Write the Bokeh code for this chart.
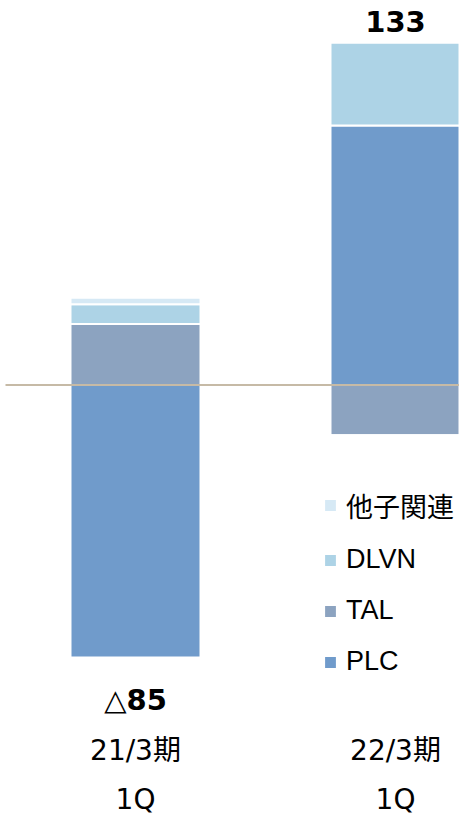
from bokeh.plotting import figure
from bokeh.models import Range1d, ColumnDataSource, Span, Legend, LegendItem
from bokeh.core.properties import value
from bokeh.embed import file_html
from bokeh.resources import INLINE

# ---- data ----
categories = ["21/3期", "22/3期"]
quarters = ["1Q", "1Q"]
series_names = ["PLC", "TAL", "DLVN", "他子関連"]
plc = [-125, 119]
tal = [28, -23]
dlvn = [9, 38]
other = [3, -1]
series_values = [plc, tal, dlvn, other]
colors = ["#709BCB", "#8CA3C0", "#ADD3E6", "#D6E9F5"]

# ---- layout ----
W, H = 459, 815
PX = 2.18          # pixels per unit
ZERO = 384.5       # pixel row of zero from top
X0 = 135           # pixel column of first bar center
DX = 260           # pixel distance between bars
BAR_PX = 130

def py_to_y(py):
    return (ZERO - py) / PX

def px_to_x(px):
    return (px - X0) / DX

x_idx = list(range(len(categories)))
p = figure(width=W, height=H,
           x_range=Range1d(px_to_x(0), px_to_x(W)),
           y_range=Range1d(py_to_y(H), py_to_y(0)),
           output_backend="svg", toolbar_location=None, min_border=0)
p.axis.visible = False
p.grid.visible = False
p.outline_line_color = None
p.background_fill_color = "white"
p.border_fill_color = "white"

pos = [0.0] * len(categories)
neg = [0.0] * len(categories)
renderers = []
for name, vals, col in zip(series_names, series_values, colors):
    bottoms, tops = [], []
    for i, v in enumerate(vals):
        if v >= 0:
            bottoms.append(pos[i]); tops.append(pos[i] + v); pos[i] += v
        else:
            bottoms.append(neg[i]); tops.append(neg[i] + v); neg[i] += v
    src = ColumnDataSource(dict(x=x_idx, top=tops, bottom=bottoms))
    r = p.vbar(x="x", top="top", bottom="bottom", width=BAR_PX / DX, source=src,
               fill_color=col, line_color="white", line_width=2)
    renderers.append((name, r))

# zero line
p.segment(x0=[px_to_x(5)], y0=[0], x1=[px_to_x(W)], y1=[0],
          line_color="#C6BAA6", line_width=2)

# totals
totals = [sum(v[i] for v in series_values) for i in x_idx]
lab_txt, lab_y = [], []
for i, t in enumerate(totals):
    if t >= 0:
        lab_txt.append(f"{t:g}")
        lab_y.append(pos[i] + 21 / PX)
    else:
        lab_txt.append(f"△{-t:g}")
        lab_y.append(neg[i] - 42 / PX)
p.text(x=x_idx, y=lab_y, text=lab_txt, text_align="center", text_baseline="middle",
       text_font=value("DejaVu Sans, Noto Sans CJK JP"), text_font_style="bold",
       text_font_size="29px", text_color="black")

# category labels
p.text(x=x_idx, y=[py_to_y(750)] * 2, text=categories, text_align="center",
       text_baseline="middle", text_font=value("DejaVu Sans, Noto Sans CJK JP"),
       text_font_size="28px", text_color="black")
p.text(x=x_idx, y=[py_to_y(799)] * 2, text=quarters, text_align="center",
       text_baseline="middle", text_font=value("DejaVu Sans, Noto Sans CJK JP"),
       text_font_size="28px", text_color="black")

items = [LegendItem(label=n, renderers=[r]) for n, r in reversed(renderers)]
legend = Legend(items=items, location=(322, H - 677.5), orientation="vertical",
                glyph_width=16, glyph_height=16, label_standoff=8,
                label_text_font="Liberation Sans, Noto Sans CJK JP",
                label_text_font_size="27px", label_text_color="black",
                label_height=32, spacing=19,
                padding=0, margin=0, border_line_color=None,
                background_fill_alpha=0)
p.add_layout(legend, "center")

open("out.html", "w").write(file_html(p, INLINE))
